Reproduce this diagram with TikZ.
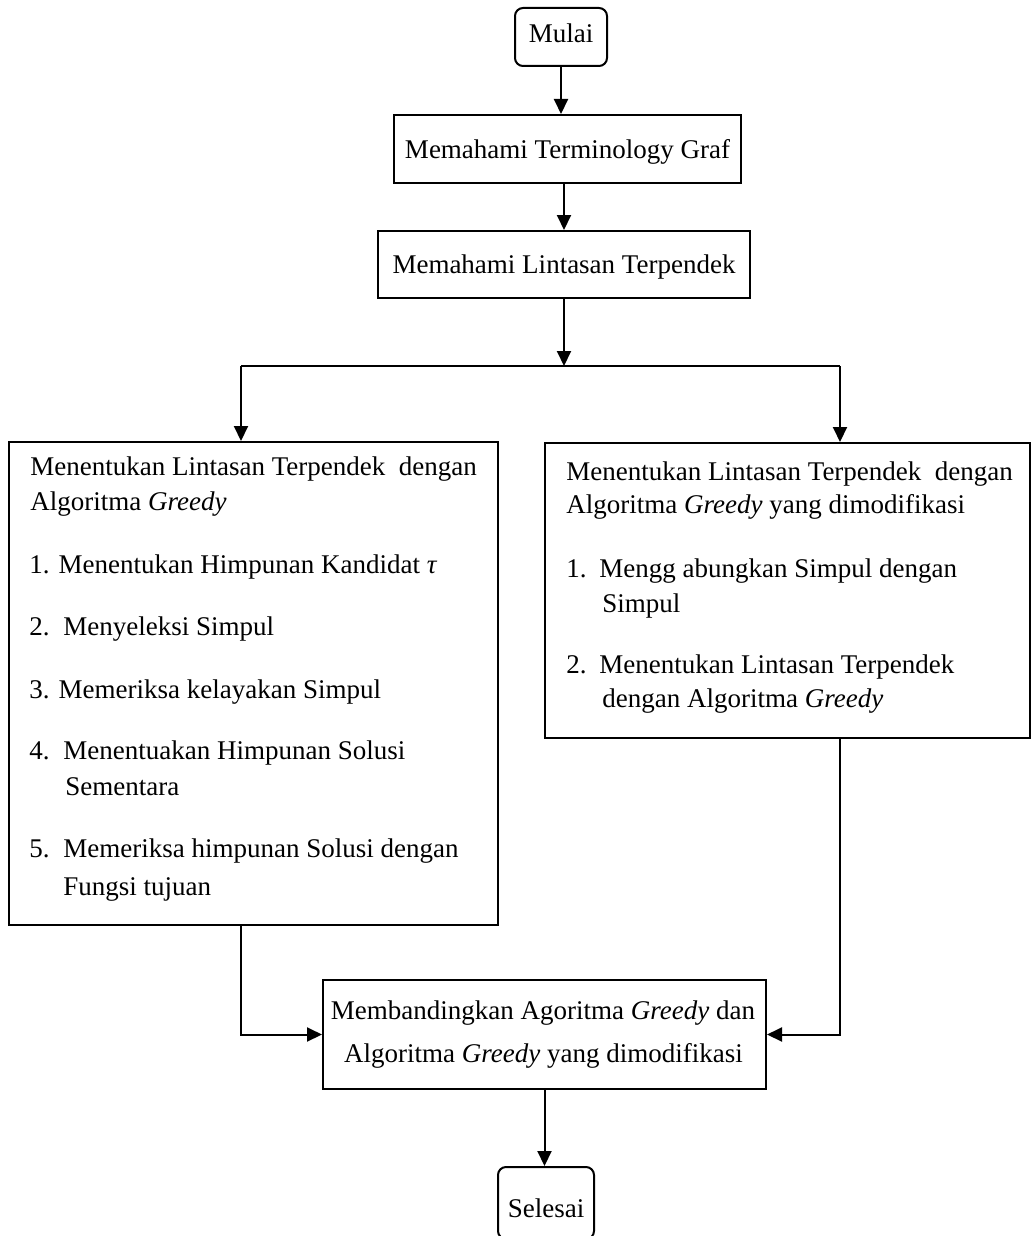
\documentclass[tikz,border=0pt]{standalone}
\usepackage{fontspec}
\setmainfont{Liberation Serif}
\usetikzlibrary{arrows.meta}
\begin{document}
\begin{tikzpicture}[x=0.5pt, y=-0.5pt,
  every node/.style={font=\fontsize{13.5pt}{16pt}\selectfont},
  box/.style={draw, line width=1pt, rectangle, inner sep=0pt},
  roundbox/.style={box, rounded corners=4pt},
  txt/.style={anchor=base west, inner sep=0pt},
  ctxt/.style={anchor=base, inner sep=0pt},
  flow/.style={line width=1pt, -{Triangle[length=7.5pt,width=7pt]}},
  wire/.style={line width=1pt}]
\useasboundingbox (0,0) rectangle (1031,1236);
\clip (0,0) rectangle (1031,1236);

% start / end terminals
\node[roundbox, minimum width=46pt, minimum height=29pt, text height=6pt, text depth=0pt] (start) at (561,37) {Mulai};
\node[roundbox, minimum width=48pt, minimum height=36pt, text height=14pt, text depth=0pt] (finish) at (546,1203) {Selesai};

% process steps
\node[box, minimum width=173.5pt, minimum height=34pt, text depth=0pt] (terms) at (567.5,149) {Memahami Terminology Graf};
\node[box, minimum width=186pt, minimum height=33.5pt, text depth=0pt] (shortest) at (564,264.5) {Memahami Lintasan Terpendek};

% left branch: plain greedy
\node[box, minimum width=244.5pt, minimum height=241.5pt] (greedy) at (253.5,683.5) {};
\node[txt] (g1) at (30,475) {Menentukan Lintasan Terpendek\ \ dengan};
\node[txt] (g2) at (30,510) {Algoritma \textit{Greedy}};
\node[txt] (g3) at (29,573) {1. Menentukan Himpunan Kandidat \textit{τ}};
\node[txt] (g4) at (29,635) {\makebox[17pt][l]{2.}Menyeleksi Simpul};
\node[txt] (g5) at (29,698) {3. Memeriksa kelayakan Simpul};
\node[txt] (g6) at (29,759) {\makebox[17pt][l]{4.}Menentuakan Himpunan Solusi};
\node[txt] (g7) at (65,795) {Sementara};
\node[txt] (g8) at (29,857) {\makebox[17pt][l]{5.}Memeriksa himpunan Solusi dengan};
\node[txt] (g9) at (63,895) {Fungsi tujuan};

% right branch: modified greedy
\node[box, minimum width=242.5pt, minimum height=147.5pt] (modified) at (787.5,590.5) {};
\node[txt] (m1) at (566,480) {Menentukan Lintasan Terpendek\ \ dengan};
\node[txt] (m2) at (566,513) {Algoritma \textit{Greedy} yang dimodifikasi};
\node[txt] (m3) at (566,577) {\makebox[16.5pt][l]{1.}Mengg abungkan Simpul dengan};
\node[txt] (m4) at (602,612) {Simpul};
\node[txt] (m5) at (566,673) {\makebox[16.5pt][l]{2.}Menentukan Lintasan Terpendek};
\node[txt] (m6) at (602,707) {dengan Algoritma \textit{Greedy}};

% comparison
\node[box, minimum width=221.5pt, minimum height=54.5pt] (compare) at (544.5,1034.5) {};
\node[ctxt] (c1) at (543,1019) {Membandingkan Agoritma \textit{Greedy} dan};
\node[ctxt] (c2) at (543.5,1062) {Algoritma \textit{Greedy} yang dimodifikasi};

% branching points
\coordinate (bl) at (241,366);
\coordinate (br) at (840,366);

% connectors
\draw[flow] (start.south) -- (start.south |- terms.north);
\draw[flow] (terms.south -| shortest.south) -- (shortest.north);
\draw[flow] (shortest.south) -- (shortest.south |- bl);
\draw[wire] (bl) -- (br);
\draw[flow] (bl) -- (bl |- greedy.north);
\draw[flow] (br) -- (br |- modified.north);
\draw[flow] (greedy.south -| bl) |- (compare.west);
\draw[flow] (modified.south -| br) |- (compare.east);
\draw[flow] (compare.south) -- (compare.south |- finish.north);
\end{tikzpicture}
\end{document}
